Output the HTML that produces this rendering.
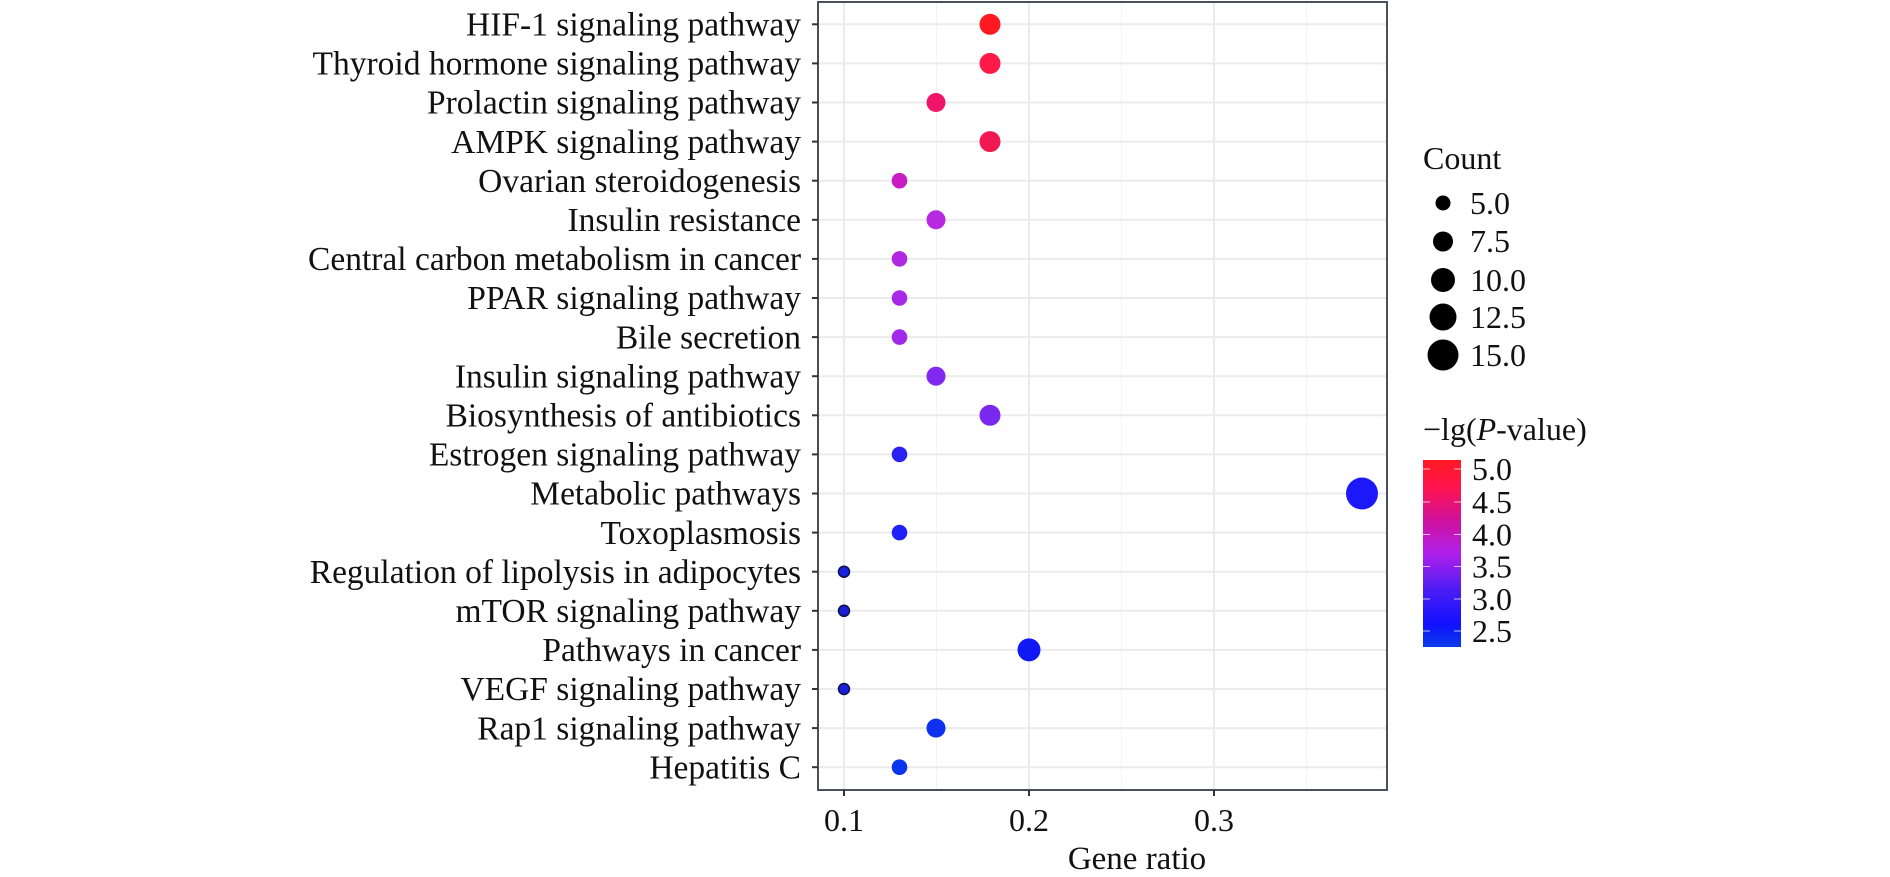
<!DOCTYPE html>
<html><head><meta charset="utf-8"><style>
html,body{margin:0;padding:0;background:#fff;}
svg{display:block;}
text{font-family:"Liberation Serif",serif;fill:#111;}
</style></head><body>
<svg width="1890" height="877" viewBox="0 0 1890 877" xmlns="http://www.w3.org/2000/svg">
<defs>
<linearGradient id="cb" x1="0" y1="1" x2="0" y2="0">
<stop offset="0" stop-color="#0a3de8"/>
<stop offset="0.12" stop-color="#1010ff"/>
<stop offset="0.3" stop-color="#4a1cf4"/>
<stop offset="0.5" stop-color="#b020ec"/>
<stop offset="0.68" stop-color="#d0109a"/>
<stop offset="0.85" stop-color="#ff1450"/>
<stop offset="1" stop-color="#ff1a22"/>
</linearGradient>
</defs>
<rect x="818" y="2" width="569" height="788" fill="#fff"/>
<g stroke="#f3f3f3" stroke-width="1">
<line x1="936.5" y1="2" x2="936.5" y2="790"/><line x1="1121.5" y1="2" x2="1121.5" y2="790"/><line x1="1306.5" y1="2" x2="1306.5" y2="790"/>
</g>
<g stroke="#ebebeb" stroke-width="2">
<line x1="844" y1="2" x2="844" y2="790"/><line x1="1029" y1="2" x2="1029" y2="790"/><line x1="1214" y1="2" x2="1214" y2="790"/>
<line x1="818" x2="1387" y1="24.3" y2="24.3"/><line x1="818" x2="1387" y1="63.4" y2="63.4"/><line x1="818" x2="1387" y1="102.5" y2="102.5"/><line x1="818" x2="1387" y1="141.6" y2="141.6"/><line x1="818" x2="1387" y1="180.7" y2="180.7"/><line x1="818" x2="1387" y1="219.8" y2="219.8"/><line x1="818" x2="1387" y1="258.9" y2="258.9"/><line x1="818" x2="1387" y1="298" y2="298"/><line x1="818" x2="1387" y1="337.1" y2="337.1"/><line x1="818" x2="1387" y1="376.2" y2="376.2"/><line x1="818" x2="1387" y1="415.3" y2="415.3"/><line x1="818" x2="1387" y1="454.4" y2="454.4"/><line x1="818" x2="1387" y1="493.5" y2="493.5"/><line x1="818" x2="1387" y1="532.6" y2="532.6"/><line x1="818" x2="1387" y1="571.7" y2="571.7"/><line x1="818" x2="1387" y1="610.8" y2="610.8"/><line x1="818" x2="1387" y1="649.9" y2="649.9"/><line x1="818" x2="1387" y1="689" y2="689"/><line x1="818" x2="1387" y1="728.1" y2="728.1"/><line x1="818" x2="1387" y1="767.2" y2="767.2"/>
</g>
<g>
<circle cx="990" cy="24.3" r="10.5" fill="#ff1a22"/>
<circle cx="990" cy="63.4" r="10.5" fill="#ff1a4a"/>
<circle cx="936" cy="102.5" r="9.5" fill="#f0146a"/>
<circle cx="990" cy="141.6" r="10.5" fill="#f21852"/>
<circle cx="899.5" cy="180.7" r="7.8" fill="#c81cc4"/>
<circle cx="936" cy="219.8" r="9.5" fill="#b828e0"/>
<circle cx="899.5" cy="258.9" r="7.8" fill="#b028e2"/>
<circle cx="899.5" cy="298" r="7.8" fill="#a828e8"/>
<circle cx="899.5" cy="337.1" r="7.8" fill="#a228ea"/>
<circle cx="936" cy="376.2" r="9.5" fill="#8028f0"/>
<circle cx="990" cy="415.3" r="10.5" fill="#7a28f0"/>
<circle cx="899.5" cy="454.4" r="7.8" fill="#2a20f2"/>
<circle cx="1362" cy="493.5" r="16" fill="#1c18fa"/>
<circle cx="899.5" cy="532.6" r="7.8" fill="#2020f8"/>
<circle cx="844" cy="571.7" r="5.5" fill="#1a20e0" stroke="#10104a" stroke-width="1.5"/>
<circle cx="844" cy="610.8" r="5.5" fill="#1a20d8" stroke="#10104a" stroke-width="1.5"/>
<circle cx="1029" cy="649.9" r="11.5" fill="#1018f4"/>
<circle cx="844" cy="689" r="5.5" fill="#1a20d8" stroke="#10104a" stroke-width="1.5"/>
<circle cx="936" cy="728.1" r="9.5" fill="#1030f0"/>
<circle cx="899.5" cy="767.2" r="7.8" fill="#0a34ee"/>
</g>
<rect x="818" y="2" width="569" height="788" fill="none" stroke="#4a4f5c" stroke-width="2"/>
<g stroke="#333" stroke-width="2">
<line x1="812" x2="818" y1="24.3" y2="24.3"/><line x1="812" x2="818" y1="63.4" y2="63.4"/><line x1="812" x2="818" y1="102.5" y2="102.5"/><line x1="812" x2="818" y1="141.6" y2="141.6"/><line x1="812" x2="818" y1="180.7" y2="180.7"/><line x1="812" x2="818" y1="219.8" y2="219.8"/><line x1="812" x2="818" y1="258.9" y2="258.9"/><line x1="812" x2="818" y1="298" y2="298"/><line x1="812" x2="818" y1="337.1" y2="337.1"/><line x1="812" x2="818" y1="376.2" y2="376.2"/><line x1="812" x2="818" y1="415.3" y2="415.3"/><line x1="812" x2="818" y1="454.4" y2="454.4"/><line x1="812" x2="818" y1="493.5" y2="493.5"/><line x1="812" x2="818" y1="532.6" y2="532.6"/><line x1="812" x2="818" y1="571.7" y2="571.7"/><line x1="812" x2="818" y1="610.8" y2="610.8"/><line x1="812" x2="818" y1="649.9" y2="649.9"/><line x1="812" x2="818" y1="689" y2="689"/><line x1="812" x2="818" y1="728.1" y2="728.1"/><line x1="812" x2="818" y1="767.2" y2="767.2"/>
<line x1="844" x2="844" y1="790" y2="796"/><line x1="1029" x2="1029" y1="790" y2="796"/><line x1="1214" x2="1214" y1="790" y2="796"/>
</g>
<g font-size="33.5" text-anchor="end">
<text x="801" y="35.5">HIF-1 signaling pathway</text>
<text x="801" y="74.6">Thyroid hormone signaling pathway</text>
<text x="801" y="113.7">Prolactin signaling pathway</text>
<text x="801" y="152.8">AMPK signaling pathway</text>
<text x="801" y="191.9">Ovarian steroidogenesis</text>
<text x="801" y="231">Insulin resistance</text>
<text x="801" y="270.1">Central carbon metabolism in cancer</text>
<text x="801" y="309.2">PPAR signaling pathway</text>
<text x="801" y="348.3">Bile secretion</text>
<text x="801" y="387.4">Insulin signaling pathway</text>
<text x="801" y="426.5">Biosynthesis of antibiotics</text>
<text x="801" y="465.6">Estrogen signaling pathway</text>
<text x="801" y="504.7">Metabolic pathways</text>
<text x="801" y="543.8">Toxoplasmosis</text>
<text x="801" y="582.9">Regulation of lipolysis in adipocytes</text>
<text x="801" y="622">mTOR signaling pathway</text>
<text x="801" y="661.1">Pathways in cancer</text>
<text x="801" y="700.2">VEGF signaling pathway</text>
<text x="801" y="739.3">Rap1 signaling pathway</text>
<text x="801" y="778.4">Hepatitis C</text>
</g>
<g font-size="32" text-anchor="middle">
<text x="844" y="831">0.1</text>
<text x="1029" y="831">0.2</text>
<text x="1214" y="831">0.3</text>
<text x="1137" y="869" font-size="33">Gene ratio</text>
</g>
<text x="1423" y="169" font-size="32">Count</text>
<g fill="#000">
<circle cx="1443" cy="203" r="7.5"/>
<circle cx="1443" cy="241.5" r="10"/>
<circle cx="1443" cy="280" r="12"/>
<circle cx="1443" cy="317" r="13.5"/>
<circle cx="1443" cy="355" r="15.5"/>
</g>
<g font-size="32">
<text x="1470" y="214">5.0</text>
<text x="1470" y="252">7.5</text>
<text x="1470" y="291">10.0</text>
<text x="1470" y="328">12.5</text>
<text x="1470" y="366">15.0</text>
</g>
<text x="1423" y="440" font-size="32">−lg(<tspan font-style="italic">P</tspan>-value)</text>
<rect x="1423" y="460" width="38" height="187" fill="url(#cb)"/>
<g stroke="#fff" stroke-width="1" opacity="0.7">
<line x1="1423" x2="1430" y1="469" y2="469"/><line x1="1454" x2="1461" y1="469" y2="469"/>
<line x1="1423" x2="1430" y1="502" y2="502"/><line x1="1454" x2="1461" y1="502" y2="502"/>
<line x1="1423" x2="1430" y1="534.5" y2="534.5"/><line x1="1454" x2="1461" y1="534.5" y2="534.5"/>
<line x1="1423" x2="1430" y1="566.5" y2="566.5"/><line x1="1454" x2="1461" y1="566.5" y2="566.5"/>
<line x1="1423" x2="1430" y1="599" y2="599"/><line x1="1454" x2="1461" y1="599" y2="599"/>
<line x1="1423" x2="1430" y1="631" y2="631"/><line x1="1454" x2="1461" y1="631" y2="631"/>
</g>
<g font-size="32">
<text x="1472" y="480">5.0</text>
<text x="1472" y="513">4.5</text>
<text x="1472" y="545.5">4.0</text>
<text x="1472" y="577.5">3.5</text>
<text x="1472" y="610">3.0</text>
<text x="1472" y="642">2.5</text>
</g>
</svg>
</body></html>
